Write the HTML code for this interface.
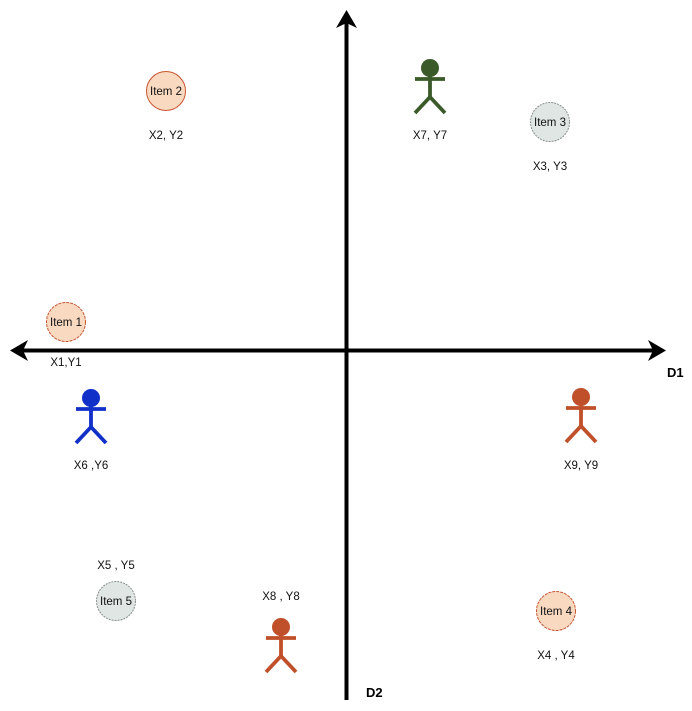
<!DOCTYPE html>
<html><head><meta charset="utf-8"><style>
html,body{margin:0;padding:0;background:#fff;width:692px;height:711px;overflow:hidden}
svg{display:block;font-family:"Liberation Sans",sans-serif}
</style></head><body>
<svg id="chart" width="692" height="711" viewBox="0 0 692 711">
  <g>
    <line x1="22" y1="350.5" x2="654" y2="350.5" stroke="#000" stroke-width="4"/>
    <path d="M666,350.5 L648,340 L653,350.5 L648,361 Z" fill="#000"/>
    <path d="M10,350.5 L28,340 L23,350.5 L28,361 Z" fill="#000"/>
    <text x="667" y="377" font-size="13" font-weight="bold">D1</text>
  </g>
  <g>
    <line x1="346.5" y1="22" x2="346.5" y2="700" stroke="#000" stroke-width="4"/>
    <path d="M346.5,10 L336,28 L346.5,23 L357,28 Z" fill="#000"/>
    <text x="366" y="697" font-size="13" font-weight="bold">D2</text>
  </g>
  <g id="items"></g>
  <g id="people"></g>
</svg>
<script>
const itemNames=["Item 1","Item 2","Item 3","Item 4","Item 5"];
const itemX=[66,166,550,556,116];
const itemY=[322,91,122,611,601];
const itemLabels=["X1,Y1","X2, Y2","X3, Y3","X4 , Y4","X5 , Y5"];
const itemLabelDy=[40,44,44,44,-36];
const itemKind=["peach","peach","gray","peach","gray"];
const itemDashed=[true,false,true,true,true];

const personX=[91,430,281,581];
const personY=[398,68,627,397];
const personLabels=["X6 ,Y6","X7, Y7","X8 , Y8","X9, Y9"];
const personColors=["#1030c8","#3b5a2a","#c0502a","#c0502a"];
const personLabelDy=[67,67,-31,68];

const NS="http://www.w3.org/2000/svg";
function mk(t,a,p){const e=document.createElementNS(NS,t);for(const k in a)e.setAttribute(k,a[k]);p.appendChild(e);return e;}
const gi=document.getElementById('items');
itemNames.forEach((n,i)=>{
  const g=mk('g',{},gi);
  
  
  const peach=itemKind[i]==="peach";
  const a={cx:itemX[i],cy:itemY[i],r:19.5,fill:peach?"#fad9c1":"#dfe6e4",stroke:peach?"#c8542e":"#8a8f8e","stroke-width":1};
  if(itemDashed[i])a["stroke-dasharray"]=peach?"3,1":"2,1";
  const c=mk('circle',a,g);
  
  
  const t=mk('text',{x:itemX[i],y:itemY[i]+4,"font-size":11.5,"text-anchor":"middle",fill:"#111"},g);
  t.textContent=n;
  
  
  const l=mk('text',{x:itemX[i],y:itemY[i]+itemLabelDy[i]+4,"font-size":11.5,"text-anchor":"middle",fill:"#111"},g);
  l.textContent=itemLabels[i];
  
  
});
const gp=document.getElementById('people');
personX.forEach((x,i)=>{
  const y=personY[i],col=personColors[i];
  const g=mk('g',{stroke:col,"stroke-width":3.8,fill:"none"},gp);
  
  
  mk('circle',{cx:x,cy:y,r:9,fill:col,stroke:"none"},g);
  mk('line',{x1:x-15,y1:y+11,x2:x+15,y2:y+11},g);
  mk('line',{x1:x,y1:y+8,x2:x,y2:y+29},g);
  mk('line',{x1:x,y1:y+29,x2:x-15,y2:y+45},g);
  mk('line',{x1:x,y1:y+29,x2:x+15,y2:y+45},g);
  const l=mk('text',{x:x,y:y+personLabelDy[i]+4,"font-size":11.5,"text-anchor":"middle",fill:"#111",stroke:"none"},gp);
  l.textContent=personLabels[i];
  
  
});
</script>
</body></html>
